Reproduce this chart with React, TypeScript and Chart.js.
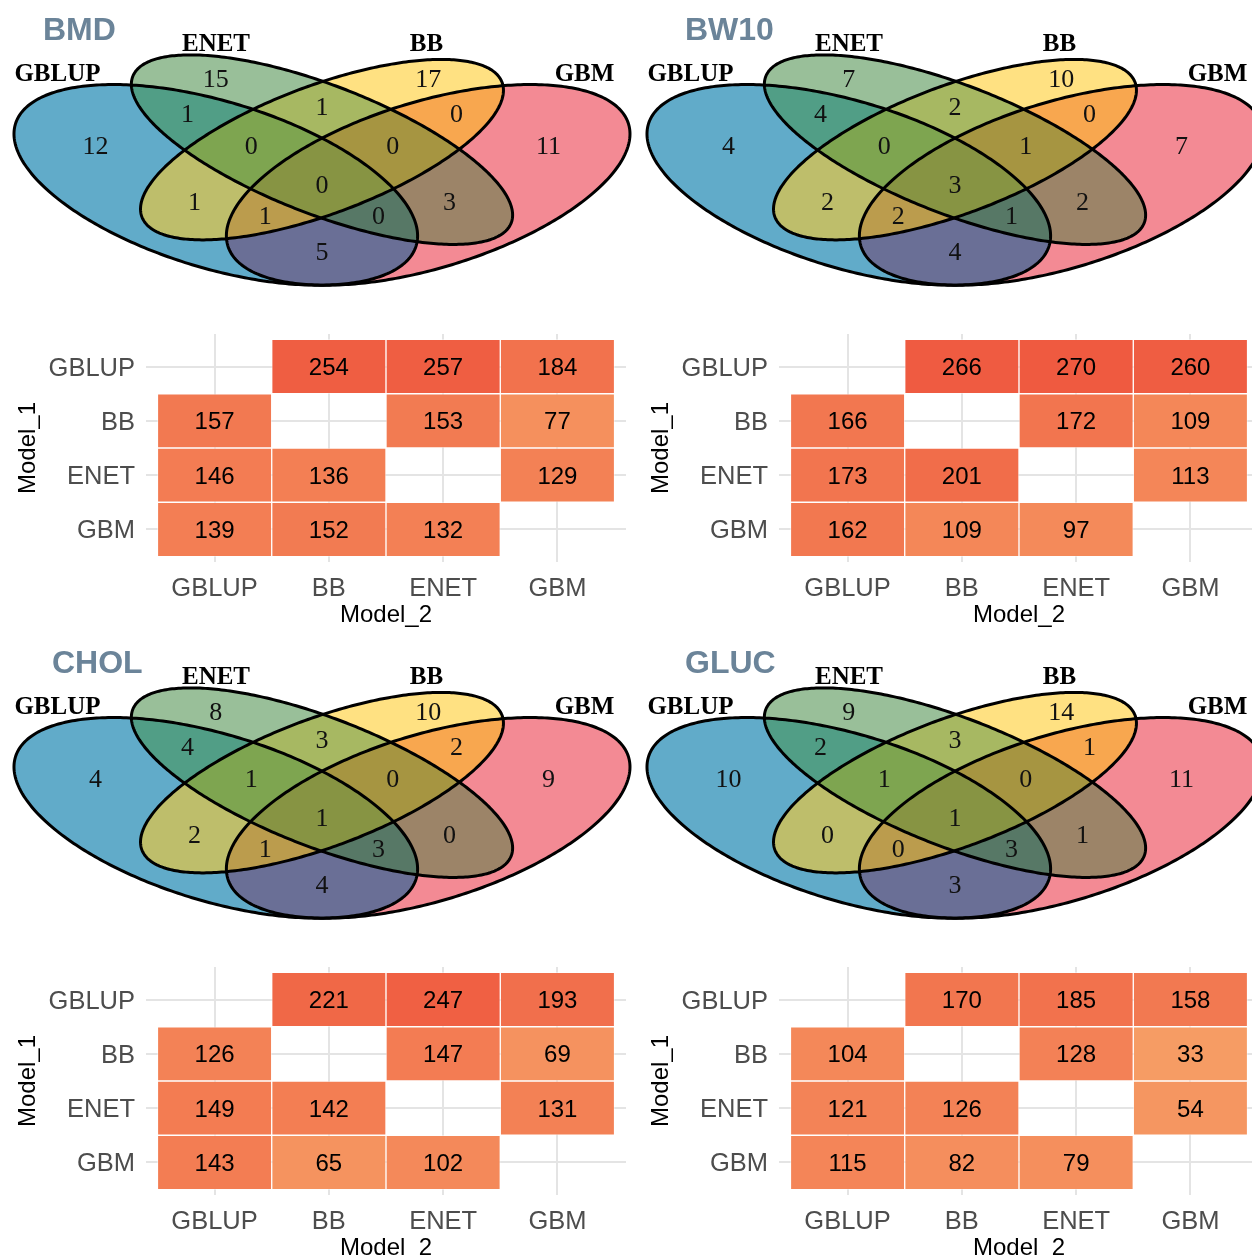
import React, { useEffect, useRef } from "react";
import { Chart, registerables } from "chart.js";

Chart.register(...registerables);

// ---------------- data ----------------
const TRAITS = ["BMD", "BW10", "CHOL", "GLUC"];
const SET_NAMES = ["GBLUP", "ENET", "BB", "GBM"];
const MODELS = ["GBLUP", "BB", "ENET", "GBM"];

// Venn region order: G, E, B, M, GE, EB, BM, GB, EM, GM, GEB, EBM, GBM, GEM, GEBM
const BMD_VENN = [12, 15, 17, 11, 1, 1, 0, 1, 3, 5, 0, 0, 1, 0, 0];
const BW10_VENN = [4, 7, 10, 7, 4, 2, 0, 2, 2, 4, 0, 1, 2, 1, 3];
const CHOL_VENN = [4, 8, 10, 9, 4, 3, 2, 2, 0, 4, 1, 0, 1, 3, 1];
const GLUC_VENN = [10, 9, 14, 11, 2, 3, 1, 0, 1, 3, 1, 0, 0, 3, 1];

// Heatmap rows = Model_1 (GBLUP, BB, ENET, GBM), cols = Model_2
const BMD_MATRIX = [
  [null, 254, 257, 184],
  [157, null, 153, 77],
  [146, 136, null, 129],
  [139, 152, 132, null],
];
const BW10_MATRIX = [
  [null, 266, 270, 260],
  [166, null, 172, 109],
  [173, 201, null, 113],
  [162, 109, 97, null],
];
const CHOL_MATRIX = [
  [null, 221, 247, 193],
  [126, null, 147, 69],
  [149, 142, null, 131],
  [143, 65, 102, null],
];
const GLUC_MATRIX = [
  [null, 170, 185, 158],
  [104, null, 128, 33],
  [121, 126, null, 54],
  [115, 82, 79, null],
];

const VENN_DATA = [BMD_VENN, BW10_VENN, CHOL_VENN, GLUC_VENN];
const MATRIX_DATA = [BMD_MATRIX, BW10_MATRIX, CHOL_MATRIX, GLUC_MATRIX];

// ---------------- layout / style ----------------
const PANEL = 633;
const VENN_H = 300;
const HEAT_H = 333;
const TITLE_X = [43, 52, 52, 52];
const TITLE_COLOR = "#6B8499";

const VENN_VIEW = { xMin: 0.0452, xMax: 0.9393, yMin: 0.1429, yMax: 0.9952 };

// ellipses in set order G, E, B, M
const ELLIPSES = [
  { cx: 0.35, cy: 0.47, a: 0.35, b: 0.2, rot: -45 },
  { cx: 0.5, cy: 0.57, a: 0.35, b: 0.15, rot: -45 },
  { cx: 0.5, cy: 0.57, a: 0.33, b: 0.15, rot: 45 },
  { cx: 0.65, cy: 0.47, a: 0.35, b: 0.2, rot: 45 },
];

const REGION_SETS = [
  [1, 0, 0, 0], [0, 1, 0, 0], [0, 0, 1, 0], [0, 0, 0, 1],
  [1, 1, 0, 0], [0, 1, 1, 0], [0, 0, 1, 1], [1, 0, 1, 0], [0, 1, 0, 1], [1, 0, 0, 1],
  [1, 1, 1, 0], [0, 1, 1, 1], [1, 0, 1, 1], [1, 1, 0, 1], [1, 1, 1, 1],
];
const REGION_COLORS = [
  "#61ABC9", "#99BF99", "#FFE182", "#F38A94",
  "#519E86", "#A7B862", "#F8A74F", "#BEBE6B", "#9C8468", "#6A6F96",
  "#7EA550", "#A69541", "#BB9C4D", "#577866", "#879443",
];
const REGION_POS = [
  [0.18, 0.58], [0.35, 0.77], [0.65, 0.77], [0.82, 0.58],
  [0.31, 0.67], [0.5, 0.69], [0.69, 0.67], [0.32, 0.42], [0.68, 0.42], [0.5, 0.28],
  [0.4, 0.58], [0.6, 0.58], [0.42, 0.38], [0.58, 0.38], [0.5, 0.47],
];
const SET_LABEL_POS = [
  [0.1264, 0.7864], [0.3503, 0.8716], [0.6476, 0.8716], [0.8708, 0.7864],
];

const SERIF = "'Liberation Serif', 'Times New Roman', serif";
const SANS = "'Liberation Sans', Arial, Helvetica, sans-serif";

const LOW = [247, 165, 105];
const HIGH = [239, 90, 64];
const FILL_LIMIT = 270;

function tileColor(v: number) {
  const t = Math.max(0, Math.min(1, v / FILL_LIMIT));
  const c = LOW.map((l, i) => Math.round(l + (HIGH[i] - l) * t));
  return `rgb(${c[0]},${c[1]},${c[2]})`;
}

function ellipsePath(ctx: CanvasRenderingContext2D, chart: any, e: any) {
  const xs = chart.scales.x;
  const ys = chart.scales.y;
  const th = (e.rot * Math.PI) / 180;
  const N = 360;
  for (let i = 0; i <= N; i++) {
    const t = (2 * Math.PI * i) / N;
    const u = e.cx + e.a * Math.cos(t) * Math.cos(th) - e.b * Math.sin(t) * Math.sin(th);
    const v = e.cy + e.a * Math.cos(t) * Math.sin(th) + e.b * Math.sin(t) * Math.cos(th);
    const px = xs.getPixelForValue(u);
    const py = ys.getPixelForValue(v);
    if (i === 0) ctx.moveTo(px, py);
    else ctx.lineTo(px, py);
  }
  ctx.closePath();
}

function makeVennPlugin(traitIdx: number) {
  return {
    id: "venn" + traitIdx,
    beforeDatasetsDraw(chart: any) {
      const ctx = chart.ctx as CanvasRenderingContext2D;
      const w = chart.width;
      const h = chart.height;
      REGION_SETS.forEach((mem, r) => {
        ctx.save();
        mem.forEach((m, k) => {
          ctx.beginPath();
          if (m) {
            ellipsePath(ctx, chart, ELLIPSES[k]);
            ctx.clip();
          } else {
            ctx.rect(0, 0, w, h);
            ellipsePath(ctx, chart, ELLIPSES[k]);
            ctx.clip("evenodd");
          }
        });
        ctx.fillStyle = REGION_COLORS[r];
        ctx.fillRect(0, 0, w, h);
        ctx.restore();
      });
      ctx.save();
      ctx.strokeStyle = "#000";
      ctx.lineWidth = 3;
      ELLIPSES.forEach((e) => {
        ctx.beginPath();
        ellipsePath(ctx, chart, e);
        ctx.stroke();
      });
      ctx.restore();
    },
    afterDatasetsDraw(chart: any) {
      const ctx = chart.ctx as CanvasRenderingContext2D;
      const meta = chart.getDatasetMeta(0);
      const counts = VENN_DATA[traitIdx];
      ctx.save();
      ctx.textAlign = "center";
      ctx.textBaseline = "middle";
      ctx.fillStyle = "#111";
      ctx.font = `26px ${SERIF}`;
      meta.data.forEach((pt: any, i: number) => {
        ctx.fillText(String(counts[i]), pt.x, pt.y + 1);
      });
      ctx.font = `bold 25px ${SERIF}`;
      ctx.fillStyle = "#000";
      SET_NAMES.forEach((name, k) => {
        const p = SET_LABEL_POS[k];
        ctx.fillText(name, chart.scales.x.getPixelForValue(p[0]), chart.scales.y.getPixelForValue(p[1]) + 1);
      });
      ctx.font = `bold 32px ${SANS}`;
      ctx.fillStyle = TITLE_COLOR;
      ctx.textAlign = "left";
      ctx.fillText(TRAITS[traitIdx], TITLE_X[traitIdx], 31.5);
      ctx.restore();
    },
  };
}

function makeTilePlugin(traitIdx: number) {
  return {
    id: "tiles" + traitIdx,
    afterDatasetsDraw(chart: any) {
      const ctx = chart.ctx as CanvasRenderingContext2D;
      const xs = chart.scales.x;
      const ys = chart.scales.y;
      const m = MATRIX_DATA[traitIdx];
      ctx.save();
      ctx.textAlign = "center";
      ctx.textBaseline = "middle";
      ctx.fillStyle = "#000";
      ctx.font = `24px ${SANS}`;
      m.forEach((row, r) =>
        row.forEach((v, c) => {
          if (v === null) return;
          ctx.fillText(String(v), xs.getPixelForValue(c), ys.getPixelForValue(r) + 2);
        })
      );
      ctx.restore();
    },
  };
}

function vennConfig(traitIdx: number): any {
  return {
    type: "scatter",
    data: {
      datasets: [
        {
          data: REGION_POS.map((p) => ({ x: p[0], y: p[1] })),
          pointRadius: 0,
        },
      ],
    },
    options: {
      responsive: false,
      animation: false,
      events: [],
      layout: { padding: 0 },
      plugins: { legend: { display: false }, tooltip: { enabled: false } },
      scales: {
        x: { type: "linear", display: false, min: VENN_VIEW.xMin, max: VENN_VIEW.xMax },
        y: { type: "linear", display: false, min: VENN_VIEW.yMin, max: VENN_VIEW.yMax },
      },
    },
    plugins: [makeVennPlugin(traitIdx)],
  };
}

function heatConfig(traitIdx: number): any {
  const m = MATRIX_DATA[traitIdx];
  const cells: any[] = [];
  m.forEach((row, r) =>
    row.forEach((v, c) => {
      if (v !== null) cells.push({ x: c, y: [r - 0.5, r + 0.5], v });
    })
  );
  const setTicks = (s: any) => {
    s.ticks = MODELS.map((_, i) => ({ value: i }));
  };
  const gridOpts = { color: "#E4E4E4", lineWidth: 2, drawTicks: false, offset: false };
  return {
    type: "bar",
    data: {
      datasets: [
        {
          data: cells,
          backgroundColor: cells.map((c) => tileColor(c.v)),
          borderColor: "rgba(255,255,255,0.45)",
          borderWidth: 1,
          borderSkipped: false,
          barPercentage: 1,
          categoryPercentage: 1,
        },
      ],
    },
    options: {
      responsive: false,
      animation: false,
      events: [],
      layout: { padding: { left: 0, right: 7, top: 34, bottom: 3.6 } },
      plugins: { legend: { display: false }, tooltip: { enabled: false } },
      scales: {
        x: {
          type: "linear",
          offset: false,
          min: -0.6,
          max: 3.6,
          afterBuildTicks: setTicks,
          afterFit: (s: any) => {
            s.height = 67.4;
          },
          grid: gridOpts,
          border: { display: false },
          ticks: {
            padding: 12,
            color: "#4D4D4D",
            font: { family: SANS, size: 25.5 },
            autoSkip: false,
            maxRotation: 0,
            callback: (v: any) => MODELS[v],
          },
          title: {
            display: true,
            text: "Model_2",
            color: "#000",
            font: { family: SANS, size: 24 },
            padding: { top: 0, bottom: 0 },
          },
        },
        y: {
          type: "linear",
          reverse: true,
          min: -0.6,
          max: 3.6,
          afterBuildTicks: setTicks,
          afterFit: (s: any) => {
            s.width = 146;
          },
          grid: gridOpts,
          border: { display: false },
          ticks: {
            padding: 11,
            labelOffset: 2,
            color: "#4D4D4D",
            font: { family: SANS, size: 25.5 },
            autoSkip: false,
            callback: (v: any) => MODELS[v],
          },
          title: {
            display: true,
            text: "Model_1",
            color: "#000",
            font: { family: SANS, size: 24 },
            padding: { top: 13.5, bottom: 0 },
          },
        },
      },
    },
    plugins: [makeTilePlugin(traitIdx)],
  };
}

export default function App() {
  const vennRefs = useRef<(HTMLCanvasElement | null)[]>([]);
  const heatRefs = useRef<(HTMLCanvasElement | null)[]>([]);

  useEffect(() => {
    const charts: Chart[] = [];
    TRAITS.forEach((_, i) => {
      const vc = vennRefs.current[i];
      const hc = heatRefs.current[i];
      if (vc) charts.push(new Chart(vc, vennConfig(i)));
      if (hc) charts.push(new Chart(hc, heatConfig(i)));
    });
    return () => charts.forEach((c) => c.destroy());
  }, []);

  return (
    <div
      style={{
        position: "fixed",
        left: 0,
        top: 0,
        width: 1252,
        height: 1257,
        overflow: "hidden",
        background: "#fff",
      }}
    >
      {TRAITS.map((t, i) => {
        const left = (i % 2) * PANEL;
        const top = Math.floor(i / 2) * PANEL;
        return (
          <React.Fragment key={t}>
            <canvas
              ref={(el) => {
                vennRefs.current[i] = el;
              }}
              width={PANEL}
              height={VENN_H}
              style={{ position: "absolute", left, top, width: PANEL, height: VENN_H, display: "block" }}
            />
            <canvas
              ref={(el) => {
                heatRefs.current[i] = el;
              }}
              width={PANEL}
              height={HEAT_H}
              style={{ position: "absolute", left, top: top + VENN_H, width: PANEL, height: HEAT_H, display: "block" }}
            />
          </React.Fragment>
        );
      })}
    </div>
  );
}
